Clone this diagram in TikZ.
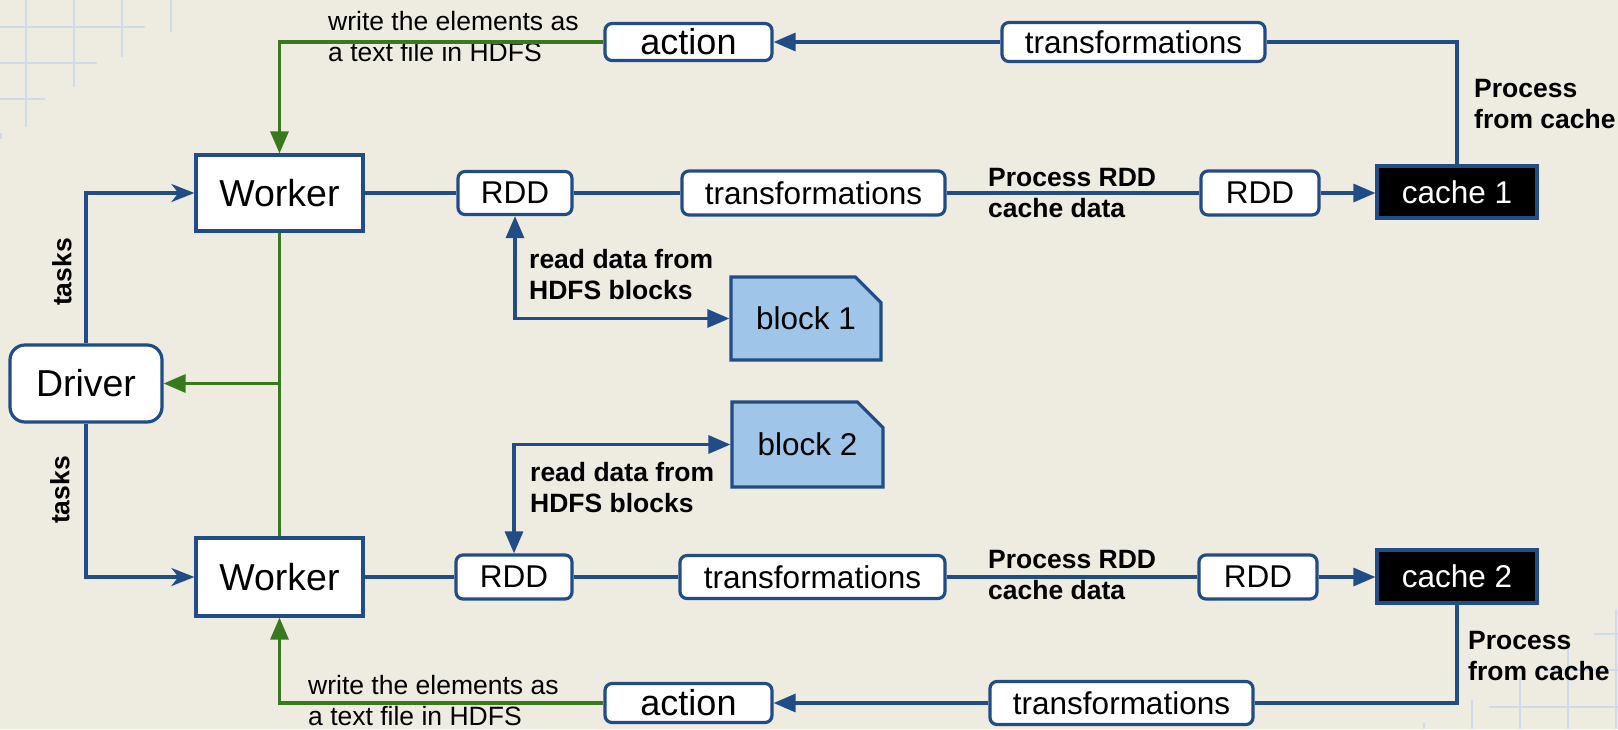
\documentclass[tikz,border=0pt]{standalone}
\usepackage{fontspec}
\setmainfont{Liberation Sans}
\usetikzlibrary{arrows.meta,shapes.misc}
\definecolor{bgc}{RGB}{238,235,225}
\definecolor{myblue}{RGB}{33,76,134}
\definecolor{mygreen}{RGB}{58,120,30}
\definecolor{blockblue}{RGB}{159,197,232}
\definecolor{gridc}{RGB}{207,219,232}
\begin{document}
\begin{tikzpicture}[x=1pt,y=-1pt,
  Tri/.tip={Triangle[length=22pt,width=18pt]},
  Stl/.tip={Stealth[length=23pt,width=18pt,inset=7pt]},
  conn/.style={draw=myblue,line width=3.2pt},
  gconn/.style={draw=mygreen,line width=3.2pt},
  gridline/.style={draw=gridc,line width=2.7pt},
  box/.style={draw=myblue,line width=3.2pt,fill=white,inner sep=0pt,font=\fontsize{31.5}{37}\selectfont},
  rbox/.style={box,rounded corners=7pt},
  bigbox/.style={box,font=\fontsize{37.5}{44}\selectfont},
  cachebox/.style={box,fill=black,text=white},
  blockbox/.style={box,fill=blockblue,chamfered rectangle,chamfered rectangle corners=north east,chamfered rectangle xsep=14pt,chamfered rectangle ysep=14pt},
  lbl/.style={inner sep=0pt,align=left,anchor=west,font=\fontsize{26.5}{31}\selectfont},
  blbl/.style={inner sep=0pt,align=left,anchor=west,font=\fontsize{26.5}{31}\selectfont\bfseries},
]
% background
\fill[bgc] (0,0) rectangle (1618,729);
\useasboundingbox (0,0) rectangle (1618,729);
% grid decoration top-left
\draw[gridline] (26,0) -- (26,127);
\draw[gridline] (74,0) -- (74,87);
\draw[gridline] (122,0) -- (122,57);
\draw[gridline] (171,0) -- (171,32);
\draw[gridline] (0,27) -- (145,27);
\draw[gridline] (0,63) -- (97,63);
\draw[gridline] (0,99) -- (45,99);
\draw[gridline] (0.5,133) -- (0.5,139);
% grid decoration bottom-right
\draw[gridline] (1616,610) -- (1616,729);
\draw[gridline] (1568,647) -- (1568,729);
\draw[gridline] (1520,677) -- (1520,729);
\draw[gridline] (1472,700) -- (1472,729);
\draw[gridline] (1424,723) -- (1424,729);
\draw[gridline] (1594,634) -- (1618,634);
\draw[gridline] (1545,670) -- (1618,670);
\draw[gridline] (1489,707) -- (1618,707);

% nodes
\node[bigbox,minimum width=167pt,minimum height=76pt] (WT) at (279.5,193) {Worker};
\node[bigbox,minimum width=167pt,minimum height=78pt] (WB) at (279.5,577) {Worker};
\node[bigbox,rounded corners=15pt,minimum width=152pt,minimum height=77pt] (D) at (86,383.5) {Driver};
\node[rbox,minimum width=114pt,minimum height=43pt] (R1) at (515,193) {RDD};
\node[rbox,minimum width=116pt,minimum height=44pt] (R2) at (514,577) {RDD};
\node[rbox,minimum width=263pt,minimum height=44pt] (T1) at (813.5,193) {transformations};
\node[rbox,minimum width=265pt,minimum height=43pt] (T2) at (812.5,577) {transformations};
\node[rbox,minimum width=118pt,minimum height=44pt] (R3) at (1260,193) {RDD};
\node[rbox,minimum width=118pt,minimum height=44pt] (R4) at (1258,577) {RDD};
\node[cachebox,minimum width=160pt,minimum height=52pt] (C1) at (1457,192) {cache 1};
\node[cachebox,minimum width=160pt,minimum height=53pt] (C2) at (1457,576.5) {cache 2};
\node[rbox,minimum width=263pt,minimum height=39pt] (TT) at (1133.5,42) {transformations};
\node[rbox,minimum width=263pt,minimum height=43pt] (TB) at (1121.5,703) {transformations};
\node[rbox,font=\fontsize{36}{42}\selectfont,minimum width=167pt,minimum height=37pt] (A1) at (688.5,42) {action};
\node[rbox,font=\fontsize{36}{42}\selectfont,minimum width=167pt,minimum height=39pt] (A2) at (688.5,703) {action};
\node[blockbox,minimum width=150pt,minimum height=83pt] (B1) at (806,318.5) {block 1};
\node[blockbox,minimum width=151pt,minimum height=85pt] (B2) at (807.5,444.5) {block 2};

% labels
\node[lbl] (L1) at (328,36.5) {write the elements as\\a text file in HDFS};
\node[lbl] (L2) at (308,701) {write the elements as\\a text file in HDFS};
\node[blbl] (L3) at (529,275) {read data from\\HDFS blocks};
\node[blbl] (L4) at (530,487.5) {read data from\\HDFS blocks};
\node[blbl] (L5) at (988,193) {Process RDD\\cache data};
\node[blbl] (L6) at (988,575) {Process RDD\\cache data};
\node[blbl] (L7) at (1474,104) {Process\\from cache};
\node[blbl] (L8) at (1468,656) {Process\\from cache};
\node[blbl,anchor=center,rotate=90] (L9) at (62,272) {tasks};
\node[blbl,anchor=center,rotate=90] (L10) at (60,490) {tasks};

% connectors top half
\draw[conn] (WT.east) -- (R1.west);
\draw[conn] (R1.east) -- (T1.west);
\draw[conn] (T1.east) -- (R3.west);
\draw[conn,-Tri] (R3.east) -- (C1.west |- R3.east);
\draw[conn] (C1.north) |- (TT.east);
\draw[conn,-Tri] (TT.west) -- (A1.east);
\draw[gconn,-Tri] (A1.west) -| (WT.north);
\draw[conn,Tri-Tri] (R1.south) |- (B1.west);
% connectors bottom half
\draw[conn] (WB.east) -- (R2.west);
\draw[conn] (R2.east) -- (T2.west);
\draw[conn] (T2.east) -- (R4.west);
\draw[conn,-Tri] (R4.east) -- (C2.west |- R4.east);
\draw[conn] (C2.south) |- (TB.east);
\draw[conn,-Tri] (TB.west) -- (A2.east);
\draw[gconn,-Tri] (A2.west) -| (WB.south);
\draw[conn,Tri-Tri] (R2.north) |- (B2.west);
% driver
\draw[conn,-Stl] (D.north) |- (WT.west);
\draw[conn,-Stl] (D.south) |- (WB.west);
\draw[gconn] (WT.south) -- (WB.north);
\draw[gconn,-Tri] (WT.south |- D.east) -- (D.east);
\end{tikzpicture}
\end{document}
